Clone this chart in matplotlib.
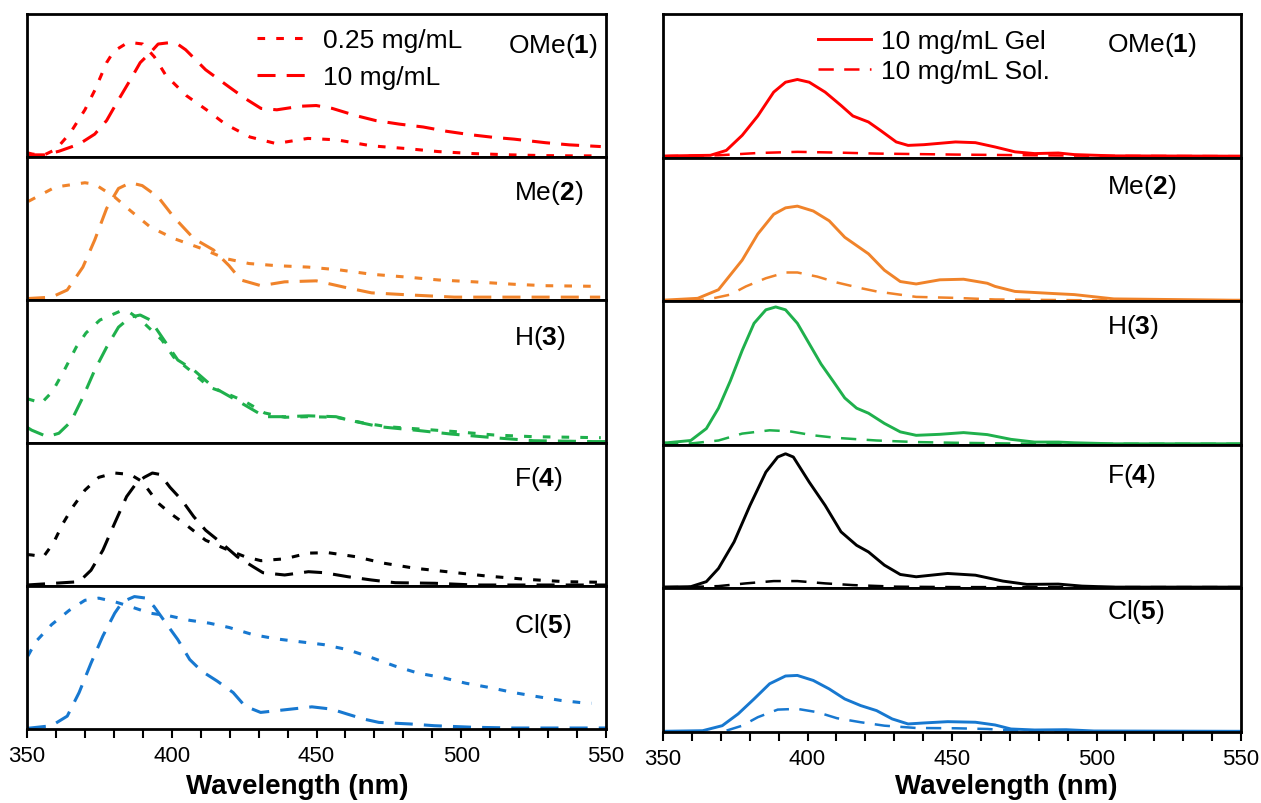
import numpy as np
import matplotlib
matplotlib.use('Agg')
import matplotlib.pyplot as plt

plt.rcParams['font.family'] = ['Liberation Sans', 'DejaVu Sans']
plt.rcParams['mathtext.fontset'] = 'custom'
plt.rcParams['mathtext.rm'] = 'Liberation Sans'
plt.rcParams['mathtext.bf'] = 'Liberation Sans:bold'
plt.rcParams['lines.scale_dashes'] = False

# ---------------- data (normalised intensity, fraction of panel height) ----------------
compounds = ['OMe', 'Me', 'H', 'F', 'Cl']
numbers = ['1', '2', '3', '4', '5']
colors = ['#FF0000', '#F0832A', '#1FB04C', '#000000', '#1778D0']
xticks_major = [350, 400, 450, 500, 550]

# Left: 0.25 mg/mL (short dash) and 10 mg/mL (long dash)
ome_low_wl = [350, 352, 356, 360, 365, 370, 373.5, 377.5, 380, 384, 386, 390, 394, 398, 405, 412, 418.5, 427, 436, 447, 457, 469, 481, 492, 504, 517, 528, 539, 548]
ome_low_i = [0.03, 0.02, 0.015, 0.054, 0.17, 0.33, 0.47, 0.66, 0.74, 0.79, 0.80, 0.79, 0.70, 0.57, 0.43, 0.33, 0.23, 0.14, 0.094, 0.13, 0.12, 0.078, 0.059, 0.038, 0.024, 0.015, 0.01, 0.008, 0.008]
ome_high_wl = [350, 356, 361, 368, 373.4, 377.5, 381.6, 385.7, 389.1, 392.6, 395.3, 399.4, 402, 404.8, 411.7, 419.8, 425.3, 430.8, 436.3, 444.4, 449.9, 455.4, 463.5, 470.4, 478.6, 486.8, 494.9, 503.1, 511.3, 518.2, 529.1, 537.3, 548.2]
ome_high_i = [0.015, 0.015, 0.04, 0.09, 0.16, 0.255, 0.40, 0.54, 0.66, 0.73, 0.79, 0.80, 0.79, 0.75, 0.61, 0.49, 0.41, 0.34, 0.33, 0.355, 0.36, 0.34, 0.29, 0.255, 0.23, 0.21, 0.18, 0.156, 0.137, 0.125, 0.10, 0.085, 0.073]

me_low_wl = [350.5, 359.8, 370, 373.4, 380.3, 385.7, 392.6, 400.7, 410.3, 418.5, 426.7, 436.3, 447.2, 458.1, 469, 481.3, 492.2, 504.5, 518.2, 529.1, 541.4, 548]
me_low_i = [0.69, 0.79, 0.82, 0.81, 0.72, 0.625, 0.51, 0.43, 0.36, 0.29, 0.255, 0.24, 0.23, 0.21, 0.18, 0.16, 0.14, 0.127, 0.11, 0.10, 0.097, 0.095]
me_high_wl = [350, 358.5, 363.9, 369.3, 373.4, 377.5, 381.6, 385.7, 389.8, 395.3, 400.7, 407.6, 414.4, 419.8, 423.9, 430.8, 439, 449.9, 459.5, 469, 482.6, 497.6, 520, 548]
me_high_i = [0.01, 0.02, 0.07, 0.23, 0.42, 0.64, 0.78, 0.82, 0.80, 0.72, 0.58, 0.43, 0.35, 0.24, 0.14, 0.10, 0.127, 0.134, 0.09, 0.05, 0.035, 0.02, 0.02, 0.02]

h_low_wl = [350, 355, 358.8, 362.9, 367, 370.4, 375.2, 382, 385.7, 389.8, 396.6, 400.7, 406.2, 413, 418.5, 425.3, 432.1, 439, 447.2, 456.7, 466.3, 474.5, 484, 497.7, 511.3, 525, 538.6, 548.2]
h_low_i = [0.31, 0.28, 0.36, 0.51, 0.67, 0.77, 0.86, 0.92, 0.91, 0.85, 0.72, 0.60, 0.51, 0.39, 0.35, 0.29, 0.21, 0.18, 0.184, 0.18, 0.14, 0.114, 0.10, 0.08, 0.056, 0.044, 0.04, 0.037]
h_high_wl = [350, 351.6, 357, 361, 365.2, 369.3, 373.4, 377.5, 381.6, 385.7, 389.1, 392.6, 398, 402.1, 407.6, 414.4, 424, 432.1, 439, 447.2, 456.7, 463.5, 471.7, 484, 496.3, 511.3, 525, 545.5, 550]
h_high_i = [0.11, 0.09, 0.044, 0.068, 0.15, 0.32, 0.51, 0.67, 0.81, 0.88, 0.895, 0.86, 0.70, 0.58, 0.51, 0.39, 0.28, 0.184, 0.184, 0.19, 0.184, 0.15, 0.114, 0.09, 0.063, 0.037, 0.016, 0.01, 0.01]

f_low_wl = [350, 351.6, 355.7, 359.1, 362.5, 365.9, 370, 374.8, 380.3, 385.7, 389.8, 395.3, 399.4, 404.8, 411.7, 418.5, 425.3, 430.8, 439, 447.2, 454, 463.5, 473.1, 484, 495, 508.6, 522.3, 536, 548.2]
f_low_i = [0.22, 0.217, 0.205, 0.30, 0.44, 0.555, 0.67, 0.76, 0.79, 0.78, 0.73, 0.58, 0.51, 0.43, 0.32, 0.26, 0.205, 0.177, 0.19, 0.23, 0.233, 0.205, 0.16, 0.124, 0.10, 0.07, 0.047, 0.03, 0.026]
f_high_wl = [350, 368, 372.1, 376.2, 380.3, 384.4, 387.8, 390.5, 393.3, 396, 399.4, 403.5, 407.6, 411.7, 417.2, 422.6, 428.1, 431.5, 439, 447.2, 452.6, 460.8, 469, 477.2, 490.9, 504.5, 518.2, 545.5, 550]
f_high_i = [0.007, 0.03, 0.11, 0.25, 0.44, 0.625, 0.72, 0.76, 0.79, 0.78, 0.69, 0.60, 0.485, 0.39, 0.30, 0.205, 0.135, 0.093, 0.077, 0.10, 0.093, 0.065, 0.042, 0.023, 0.019, 0.007, 0.007, 0.007, 0.007]

cl_low_wl = [350.3, 353, 358.5, 364.6, 370, 374.8, 380.3, 385.7, 392.5, 399.4, 406.2, 413, 419.8, 428, 436.2, 444.3, 452.5, 460.7, 468.9, 477.1, 485.2, 493.4, 501.6, 509.8, 518, 526.1, 534.3, 541.1, 545]
cl_low_i = [0.51, 0.61, 0.73, 0.83, 0.90, 0.915, 0.89, 0.856, 0.81, 0.79, 0.76, 0.74, 0.71, 0.66, 0.63, 0.61, 0.59, 0.555, 0.50, 0.44, 0.39, 0.36, 0.32, 0.29, 0.255, 0.227, 0.20, 0.185, 0.18]
cl_high_wl = [350.3, 358.5, 363.9, 368, 372.1, 376.2, 380.3, 383, 387.1, 391.2, 393.9, 398, 402.1, 406.2, 410.3, 415.7, 421.2, 425.3, 430.7, 438.9, 448.4, 455.2, 460.7, 466.2, 471.6, 482.5, 490.7, 504.3, 518, 545.2, 550]
cl_high_i = [0.005, 0.023, 0.09, 0.255, 0.46, 0.65, 0.81, 0.89, 0.926, 0.915, 0.856, 0.74, 0.625, 0.486, 0.405, 0.335, 0.255, 0.16, 0.116, 0.134, 0.155, 0.139, 0.104, 0.07, 0.046, 0.035, 0.023, 0.012, 0.007, 0.007, 0.007]

# Right: 10 mg/mL gel (solid) and 10 mg/mL solution (dashed)
ome_gel_wl = [350, 352.7, 366.4, 371.9, 377.4, 382.8, 388.3, 392.4, 396.5, 400.6, 406.1, 411.6, 415.7, 421.1, 425.2, 430.7, 434.8, 440.3, 451.2, 458.1, 464.9, 471.8, 478.6, 486.8, 492.3, 506, 547, 550]
ome_gel_i = [0.01, 0.012, 0.016, 0.05, 0.155, 0.29, 0.456, 0.525, 0.544, 0.525, 0.456, 0.363, 0.29, 0.248, 0.19, 0.109, 0.085, 0.09, 0.109, 0.104, 0.074, 0.04, 0.028, 0.032, 0.021, 0.012, 0.01, 0.01]
ome_sol_wl = [350, 369.2, 382.8, 396.5, 410.2, 423.9, 451.2, 478.6, 506, 550]
ome_sol_i = [0.01, 0.016, 0.032, 0.04, 0.035, 0.028, 0.021, 0.016, 0.012, 0.01]

me_gel_wl = [350, 362, 369.2, 377.4, 382.8, 388.3, 392.4, 396.5, 402, 407.5, 412.9, 421.1, 426.6, 432.1, 437.6, 445.8, 454, 462.2, 464.9, 471.8, 485.4, 492.3, 506, 547, 550]
me_gel_i = [0.007, 0.02, 0.08, 0.286, 0.468, 0.605, 0.65, 0.662, 0.628, 0.56, 0.445, 0.33, 0.216, 0.137, 0.12, 0.149, 0.153, 0.125, 0.103, 0.068, 0.053, 0.046, 0.016, 0.007, 0.007]
me_sol_wl = [350, 365, 373.3, 378.7, 385.6, 392.4, 396.5, 403.4, 410.2, 418.4, 423.9, 437.6, 451.2, 464.9, 492.3, 550]
me_sol_i = [0.005, 0.01, 0.046, 0.103, 0.16, 0.2, 0.2, 0.171, 0.13, 0.091, 0.068, 0.03, 0.023, 0.012, 0.007, 0.005]

h_gel_wl = [350, 351.4, 359.6, 365, 369.2, 373.3, 377.4, 381.5, 385.6, 389, 392.4, 396.5, 400.6, 404.7, 408.8, 412.9, 417, 421.1, 426.6, 432.1, 437.6, 445.8, 454, 462.2, 470.4, 478.6, 486.8, 492.3, 506, 547, 550]
h_gel_i = [0.014, 0.014, 0.03, 0.113, 0.255, 0.445, 0.657, 0.846, 0.94, 0.96, 0.94, 0.846, 0.704, 0.562, 0.445, 0.326, 0.255, 0.22, 0.149, 0.09, 0.066, 0.073, 0.085, 0.071, 0.038, 0.019, 0.019, 0.014, 0.007, 0.007, 0.007]
h_sol_wl = [350, 360, 369.2, 377.4, 386.9, 393.8, 402, 410.2, 423.9, 437.6, 451.2, 478.6, 550]
h_sol_i = [0.007, 0.01, 0.03, 0.078, 0.101, 0.094, 0.066, 0.048, 0.03, 0.019, 0.014, 0.007, 0.007]

f_gel_wl = [350, 359.6, 365, 369.2, 374.6, 380.1, 385.6, 389.7, 392.4, 395.1, 400.6, 406.1, 411.6, 417, 421.1, 426.6, 432.1, 437.6, 448.5, 458.1, 467.6, 475.9, 486.8, 495, 506, 550]
f_gel_i = [0.009, 0.012, 0.047, 0.139, 0.324, 0.578, 0.81, 0.915, 0.9375, 0.915, 0.74, 0.578, 0.394, 0.30, 0.254, 0.162, 0.097, 0.081, 0.104, 0.092, 0.051, 0.028, 0.03, 0.016, 0.009, 0.009]
f_sol_wl = [350, 360, 369.2, 378.7, 388.3, 396.5, 406.1, 415.7, 430.7, 451.2, 550]
f_sol_i = [0.009, 0.01, 0.016, 0.035, 0.051, 0.051, 0.035, 0.023, 0.012, 0.009, 0.009]

cl_gel_wl = [350, 363.7, 370.5, 376, 381.5, 386.9, 392.4, 396.5, 402, 407.5, 412.9, 418.4, 423.9, 429.3, 434.8, 440.3, 448.5, 458.1, 464.9, 470.4, 478.6, 489.5, 499.1, 547, 550]
cl_gel_i = [0.005, 0.009, 0.044, 0.126, 0.23, 0.336, 0.39, 0.394, 0.359, 0.30, 0.23, 0.184, 0.149, 0.091, 0.056, 0.063, 0.072, 0.068, 0.049, 0.021, 0.014, 0.016, 0.007, 0.005, 0.005]
cl_sol_wl = [372, 377.4, 382.8, 389.7, 396.5, 403.4, 410.2, 418.4, 426.6, 437.6, 451.2, 462.2, 471.8, 492.3, 545]
cl_sol_i = [0.01, 0.044, 0.103, 0.156, 0.161, 0.138, 0.096, 0.068, 0.044, 0.028, 0.026, 0.021, 0.009, 0.005, 0.005]

left_low = [(ome_low_wl, ome_low_i), (me_low_wl, me_low_i), (h_low_wl, h_low_i), (f_low_wl, f_low_i), (cl_low_wl, cl_low_i)]
left_high = [(ome_high_wl, ome_high_i), (me_high_wl, me_high_i), (h_high_wl, h_high_i), (f_high_wl, f_high_i), (cl_high_wl, cl_high_i)]
right_gel = [(ome_gel_wl, ome_gel_i), (me_gel_wl, me_gel_i), (h_gel_wl, h_gel_i), (f_gel_wl, f_gel_i), (cl_gel_wl, cl_gel_i)]
right_sol = [(ome_sol_wl, ome_sol_i), (me_sol_wl, me_sol_i), (h_sol_wl, h_sol_i), (f_sol_wl, f_sol_i), (cl_sol_wl, cl_sol_i)]

# ---------------- figure ----------------
W, H = 1261, 804
fig = plt.figure(figsize=(W / 100, H / 100), dpi=100)
gs_left = fig.add_gridspec(5, 1, left=27 / W, right=606 / W, top=1 - 15 / H, bottom=1 - 730 / H, hspace=0)
gs_right = fig.add_gridspec(5, 1, left=663 / W, right=1241 / W, top=1 - 15 / H, bottom=1 - 733 / H, hspace=0)
axL = [fig.add_subplot(gs_left[i, 0]) for i in range(5)]
axR = [fig.add_subplot(gs_right[i, 0]) for i in range(5)]

short_dash = (0, (5.5, 8))
long_dash = (0, (13, 8))
sol_dash = (0, (11, 7.5))

lab_pos_left = [(0.831, 0.78), (0.841, 0.755), (0.841, 0.74), (0.841, 0.755), (0.841, 0.73)]
lab_pos_right = [(0.769, 0.79), (0.769, 0.80), (0.769, 0.83), (0.769, 0.79), (0.769, 0.84)]


def style_axis(ax, bottom):
    ax.set_xlim(350, 550)
    ax.set_ylim(0, 1)
    ax.set_yticks([])
    for sp in ax.spines.values():
        sp.set_linewidth(2.0)
    ax.set_xticks(xticks_major)
    ax.set_xticks(np.arange(350, 551, 10), minor=True)
    if bottom:
        ax.tick_params(axis='x', which='both', direction='out', length=6.5, width=1.5,
                       labelsize=16, pad=5)
    else:
        ax.tick_params(axis='x', which='both', bottom=False, labelbottom=False)


for i in range(5):
    ax = axL[i]
    lw_, li_ = left_low[i]
    hw_, hi_ = left_high[i]
    l1, = ax.plot(lw_, li_, color=colors[i], lw=2.2, linestyle=short_dash, label='0.25 mg/mL')
    l2, = ax.plot(hw_, hi_, color=colors[i], lw=2.2, linestyle=long_dash, label='10 mg/mL')
    style_axis(ax, i == 4)
    ax.text(lab_pos_left[i][0], lab_pos_left[i][1], compounds[i] + r'($\mathbf{' + numbers[i] + '}$)',
            transform=ax.transAxes, fontsize=19, ha='left', va='center')
    if i == 0:
        ax.legend(handles=[l1, l2], loc='center left', bbox_to_anchor=(0.397, 0.688),
                  frameon=False, fontsize=19, handlelength=1.95, handletextpad=0.55,
                  labelspacing=0.5, borderpad=0, borderaxespad=0)

    ax = axR[i]
    gw_, gi_ = right_gel[i]
    sw_, si_ = right_sol[i]
    r1, = ax.plot(gw_, gi_, color=colors[i], lw=2.1, linestyle='-', label='10 mg/mL Gel')
    r2, = ax.plot(sw_, si_, color=colors[i], lw=1.8, linestyle=sol_dash, label='10 mg/mL Sol.')
    style_axis(ax, i == 4)
    ax.text(lab_pos_right[i][0], lab_pos_right[i][1], compounds[i] + r'($\mathbf{' + numbers[i] + '}$)',
            transform=ax.transAxes, fontsize=19, ha='left', va='center')
    if i == 0:
        ax.legend(handles=[r1, r2], loc='center left', bbox_to_anchor=(0.269, 0.708),
                  frameon=False, fontsize=19, handlelength=2.0, handletextpad=0.38,
                  labelspacing=0.24, borderpad=0, borderaxespad=0)

for ax, xc, yc in [(axL[4], 0.466, -0.399), (axR[4], 0.593, -0.378)]:
    ax.set_xlabel('Wavelength (nm)', fontsize=20, fontweight='bold')
    ax.xaxis.set_label_coords(xc, yc)
    ax.xaxis.label.set_va('center')

fig.savefig('out.png', dpi=100)
